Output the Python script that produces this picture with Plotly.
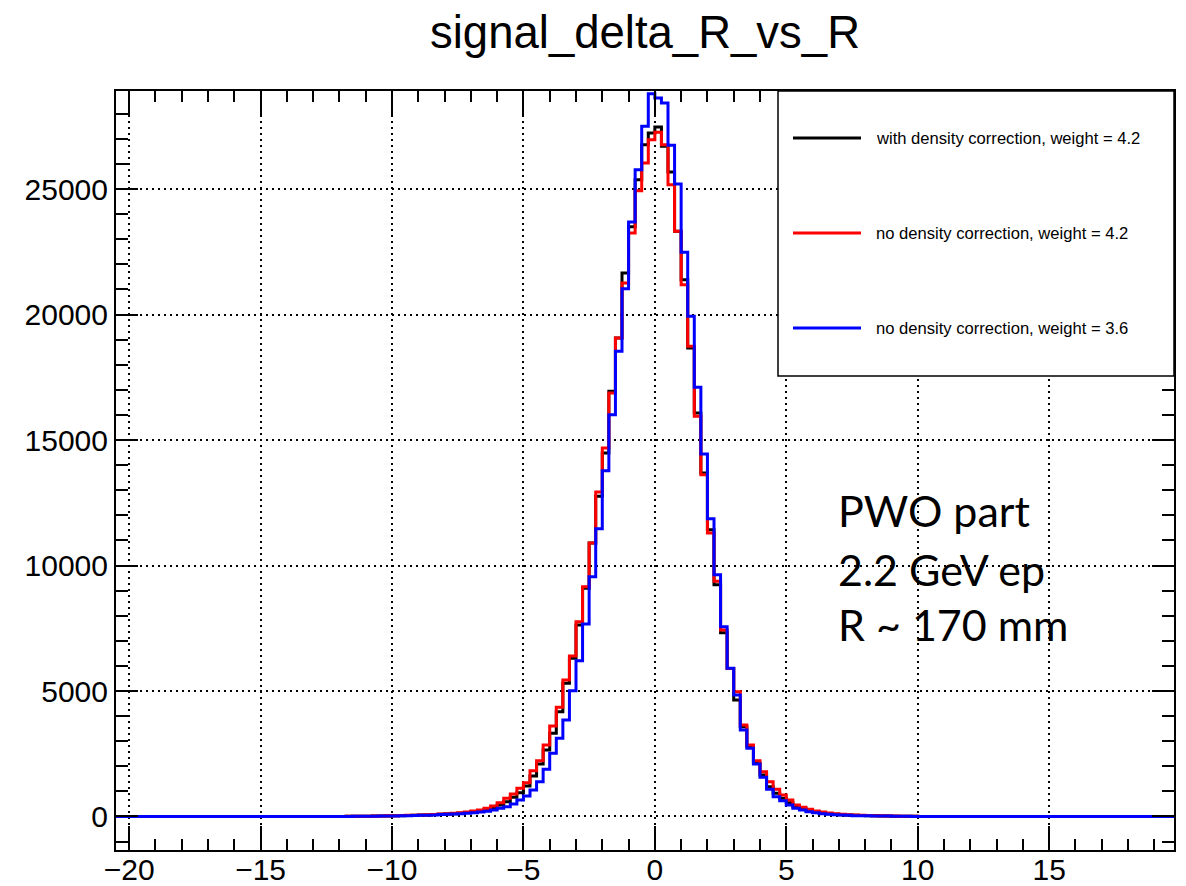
import plotly.graph_objects as go

# ---- data ----
bin_width = 0.25
x_low = -20.5  # lower edge of first bin (161 bins up to 19.75)

# far-left tail: -20.5 .. -12.0 (34 bins)
black_far_left = [0] * 34
red_far_left = [0] * 34
blue_far_left = [0] * 34

# left tail -12.0 .. -8.0 (16 bins)
black_left = [3, 5, 7, 9, 12, 15, 19, 23, 28, 34, 40, 47, 55, 64, 75, 88]
red_left = [4, 6, 8, 11, 14, 18, 22, 27, 32, 38, 45, 53, 62, 72, 84, 98]
blue_left = [2, 3, 5, 7, 9, 12, 15, 18, 22, 27, 32, 38, 45, 54, 64, 75]

# core -8.0 .. 8.0 (64 bins)
black_core = [100, 112, 133, 155, 186, 219, 265, 352, 458, 591, 763, 949, 1215, 1613,
              2092, 2650, 3313, 4177, 5306, 6302, 7630, 9090, 10897, 12757, 14483,
              16939, 19064, 21653, 23500, 25372, 26766, 27231, 27470, 26700, 25677,
              23313, 21388, 18666, 16076, 13686, 11428, 9237, 7324, 5900, 4641, 3579,
              2782, 2118, 1653, 1189, 923, 724, 551, 392, 312, 232, 186, 146, 113, 93,
              73, 60, 50, 40]
red_core = [113, 126, 153, 179, 219, 259, 325, 418, 551, 724, 896, 1122, 1348, 1826,
            2224, 2849, 3605, 4349, 5439, 6395, 7763, 9157, 10897, 12928, 14682,
            16873, 19064, 21255, 23247, 24934, 26036, 26965, 27258, 26766, 25173,
            23313, 21189, 18732, 15943, 13620, 11295, 9370, 7430, 5900, 4973, 3645,
            2849, 2224, 1786, 1388, 1082, 857, 657, 458, 365, 285, 219, 179, 139, 113,
            86, 73, 60, 46]
blue_core = [86, 100, 113, 126, 153, 179, 206, 259, 325, 392, 498, 657, 817, 1056,
             1388, 1879, 2517, 3114, 3845, 5013, 6208, 7670, 9555, 11468, 13778,
             16010, 18533, 21029, 23685, 25770, 27497, 28798, 28625, 28426, 26740,
             25200, 22477, 19927, 17098, 14442, 11866, 9635, 7562, 5903, 4840, 3446,
             2716, 2092, 1560, 1082, 790, 631, 458, 325, 259, 193, 153, 113, 86, 73,
             60, 46, 33, 33]

# right tail 8.0 .. 10.0 (8 bins)
black_right = [33, 27, 22, 18, 14, 11, 8, 5]
red_right = [38, 32, 26, 21, 17, 13, 9, 6]
blue_right = [27, 22, 18, 15, 12, 9, 6, 4]

# far-right tail 10.0 .. 19.75 (39 bins)
black_far_right = [0] * 39
red_far_right = [0] * 39
blue_far_right = [0] * 39

series_names = ["with density correction, weight = 4.2",
                "no density correction, weight = 4.2",
                "no density correction, weight = 3.6"]
series_colors = ["#000000", "#ff0000", "#0000ff"]

black = black_far_left + black_left + black_core + black_right + black_far_right
red = red_far_left + red_left + red_core + red_right + red_far_right
blue = blue_far_left + blue_left + blue_core + blue_right + blue_far_right

n_bins = len(black)
edges = [x_low + i * bin_width for i in range(n_bins + 1)]

fig = go.Figure()
for vals, name, col in zip([black, red, blue], series_names, series_colors):
    fig.add_trace(go.Scatter(
        x=edges, y=list(vals) + [vals[-1]],
        mode="lines", line=dict(color=col, width=3, shape="hv"),
        name=name, showlegend=False, hoverinfo="skip"))

L, R, T, B = 116, 12, 91, 36
W, H = 1186, 886
pw, ph = W - L - R, H - T - B

def px(xp):
    return (xp - L) / pw

def py(yp):
    return (H - B - yp) / ph

font_main = "Liberation Sans, Arial, Helvetica, sans-serif"
grid_dash = "2px,4px"

fig.update_layout(
    width=W, height=H,
    margin=dict(l=L, r=R, t=T, b=B, autoexpand=False),
    plot_bgcolor="white", paper_bgcolor="white",
    font=dict(family=font_main, color="black"),
    title=dict(text="signal_delta_R_vs_R", x=0.5, xref="paper", xanchor="center",
               y=1 - 32 / H, yref="container", yanchor="middle",
               font=dict(size=45.5, family=font_main, color="black"), automargin=False),
    showlegend=False,
)

fig.update_xaxes(
    range=[-20.5, 19.75], tickmode="linear", tick0=0, dtick=5, automargin=False,
    showline=True, linecolor="black", linewidth=2, mirror="allticks",
    ticks="inside", ticklen=24, tickwidth=1.5, tickcolor="black",
    minor=dict(ticks="inside", dtick=1, tick0=0, ticklen=11, tickwidth=1.5, tickcolor="black",
               showgrid=False),
    showgrid=True, gridcolor="black", griddash=grid_dash, gridwidth=1.5,
    zeroline=False, tickfont=dict(size=30, family=font_main, color="black"),
    ticklabelstandoff=-8,
)
fig.update_yaxes(
    range=[-1335, 28905], tickmode="linear", tick0=0, dtick=5000, tickformat="d",
    automargin=False,
    showline=True, linecolor="black", linewidth=2, mirror="allticks",
    ticks="inside", ticklen=22, tickwidth=1.5, tickcolor="black",
    minor=dict(ticks="inside", dtick=1000, tick0=0, ticklen=12, tickwidth=1.5, tickcolor="black",
               showgrid=False),
    showgrid=True, gridcolor="black", griddash=grid_dash, gridwidth=1.5,
    zeroline=False, tickfont=dict(size=30, family=font_main, color="black"),
)

# legend box (drawn manually, ROOT style)
shapes = [dict(type="rect", xref="paper", yref="paper",
               x0=px(778), x1=1, y0=py(376), y1=1,
               line=dict(color="black", width=1.5), fillcolor="white", layer="above")]
annotations = []
row_y = [138, 233, 328]
for yy, name, col in zip(row_y, series_names, series_colors):
    shapes.append(dict(type="line", xref="paper", yref="paper",
                       x0=px(793), x1=px(861), y0=py(yy), y1=py(yy),
                       line=dict(color=col, width=3), layer="above"))
    annotations.append(dict(xref="paper", yref="paper", x=px(874), y=py(yy),
                            xanchor="left", yanchor="middle", showarrow=False,
                            text=name, font=dict(size=16.6, family=font_main, color="black")))

info_lines = ["PWO part", "2.2 GeV ep", "R ~ 170 mm"]
info_y = [510, 569, 624]
for t, yy in zip(info_lines, info_y):
    annotations.append(dict(xref="paper", yref="paper", x=px(836), y=py(yy),
                            xanchor="left", yanchor="middle", showarrow=False,
                            text=t, font=dict(size=43, family="Lato, Open Sans, sans-serif",
                                              color="black")))

fig.update_layout(shapes=shapes, annotations=annotations)
fig.write_html("out.html")
